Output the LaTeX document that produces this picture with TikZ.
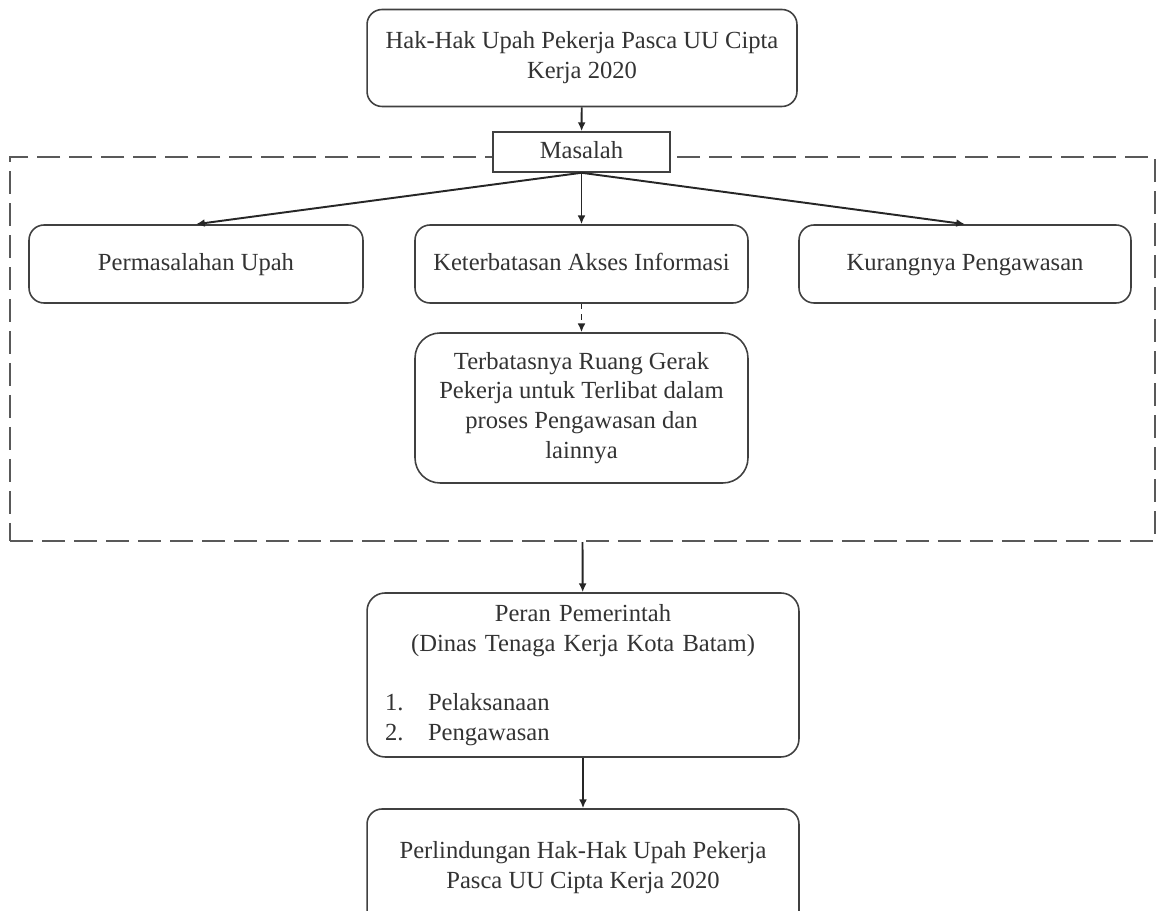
\documentclass[tikz,border=0pt]{standalone}
\usepackage{fontspec}
\setmainfont{Liberation Serif}
\usetikzlibrary{arrows.meta}

\begin{document}
\begin{tikzpicture}[x=0.02cm,y=-0.02cm,
	every node/.style={font=\fontsize{14}{17}\selectfont, text=black!80},
	kotak/.style={draw=black!75, line width=0.9pt, rounded corners=#1, align=center, inner sep=0pt},
	kotak/.default=0.3cm,
	satubaris/.style={text height=10pt, text depth=3pt},
	panah/.style={-{Latex[length=5pt,width=4.5pt]}, line width=1.1pt, draw=black!85},
	bingkai/.style={draw=black!65, line width=1.3pt, dash pattern=on 0.46cm off 0.18cm, inner sep=0pt}]
\useasboundingbox (0,0) rectangle (1157,911);
\clip (0,0) rectangle (1157,911);
\path (582.5,349) node[bingkai, minimum width=22.9cm, minimum height=7.68cm] (bingkai) {}
		(582,58) node[kotak, minimum width=8.6cm, minimum height=1.94cm] (hak) {Hak-Hak Upah Pekerja Pasca UU Cipta\\ Kerja 2020}
		(581.5,152) node[kotak=0pt, satubaris, fill=white, minimum width=3.54cm, minimum height=0.8cm] (masalah) {Masalah}
		(196,264) node[kotak, satubaris, minimum width=6.68cm, minimum height=1.56cm] (upah) {Permasalahan Upah}
		(581.5,264) node[kotak, satubaris, minimum width=6.66cm, minimum height=1.56cm] (akses) {Keterbatasan Akses Informasi}
		(965,264) node[kotak, satubaris, minimum width=6.64cm, minimum height=1.56cm] (awas) {Kurangnya Pengawasan}
		(581.5,408) node[kotak=0.5cm, minimum width=6.66cm, minimum height=3cm] (gerak) {Terbatasnya Ruang Gerak\\ Pekerja untuk Terlibat dalam\\ proses Pengawasan dan\\ lainnya}
		(583,675) node[kotak=0.36cm, minimum width=8.64cm, minimum height=3.28cm, text width=7.92cm, align=left] (peran)
			{\centering Peran Pemerintah\\ (Dinas Tenaga Kerja Kota Batam)\par\vspace{17pt}\raggedright
			\makebox[0.86cm][l]{1.}Pelaksanaan\\ \makebox[0.86cm][l]{2.}Pengawasan}
		(583,868) node[kotak, minimum width=8.64cm, minimum height=2.36cm] (lindung) {Perlindungan Hak-Hak Upah Pekerja\\ Pasca UU Cipta Kerja 2020};
\draw[panah] (node cs:name=hak) -- (node cs:name=masalah);
\draw[panah] (node cs:name=masalah, anchor=south) -- (node cs:name=upah, anchor=north);
\draw[panah] (node cs:name=masalah, anchor=south) -- (node cs:name=akses, anchor=north);
\draw[panah] (node cs:name=masalah, anchor=south) -- (node cs:name=awas, anchor=north);
\draw[panah, dashed] (node cs:name=akses) -- (node cs:name=gerak);
\draw[panah] (node cs:name=bingkai, anchor=south) -- (node cs:name=peran);
\draw[panah] (node cs:name=peran) -- (node cs:name=lindung);
\end{tikzpicture}
\end{document}
